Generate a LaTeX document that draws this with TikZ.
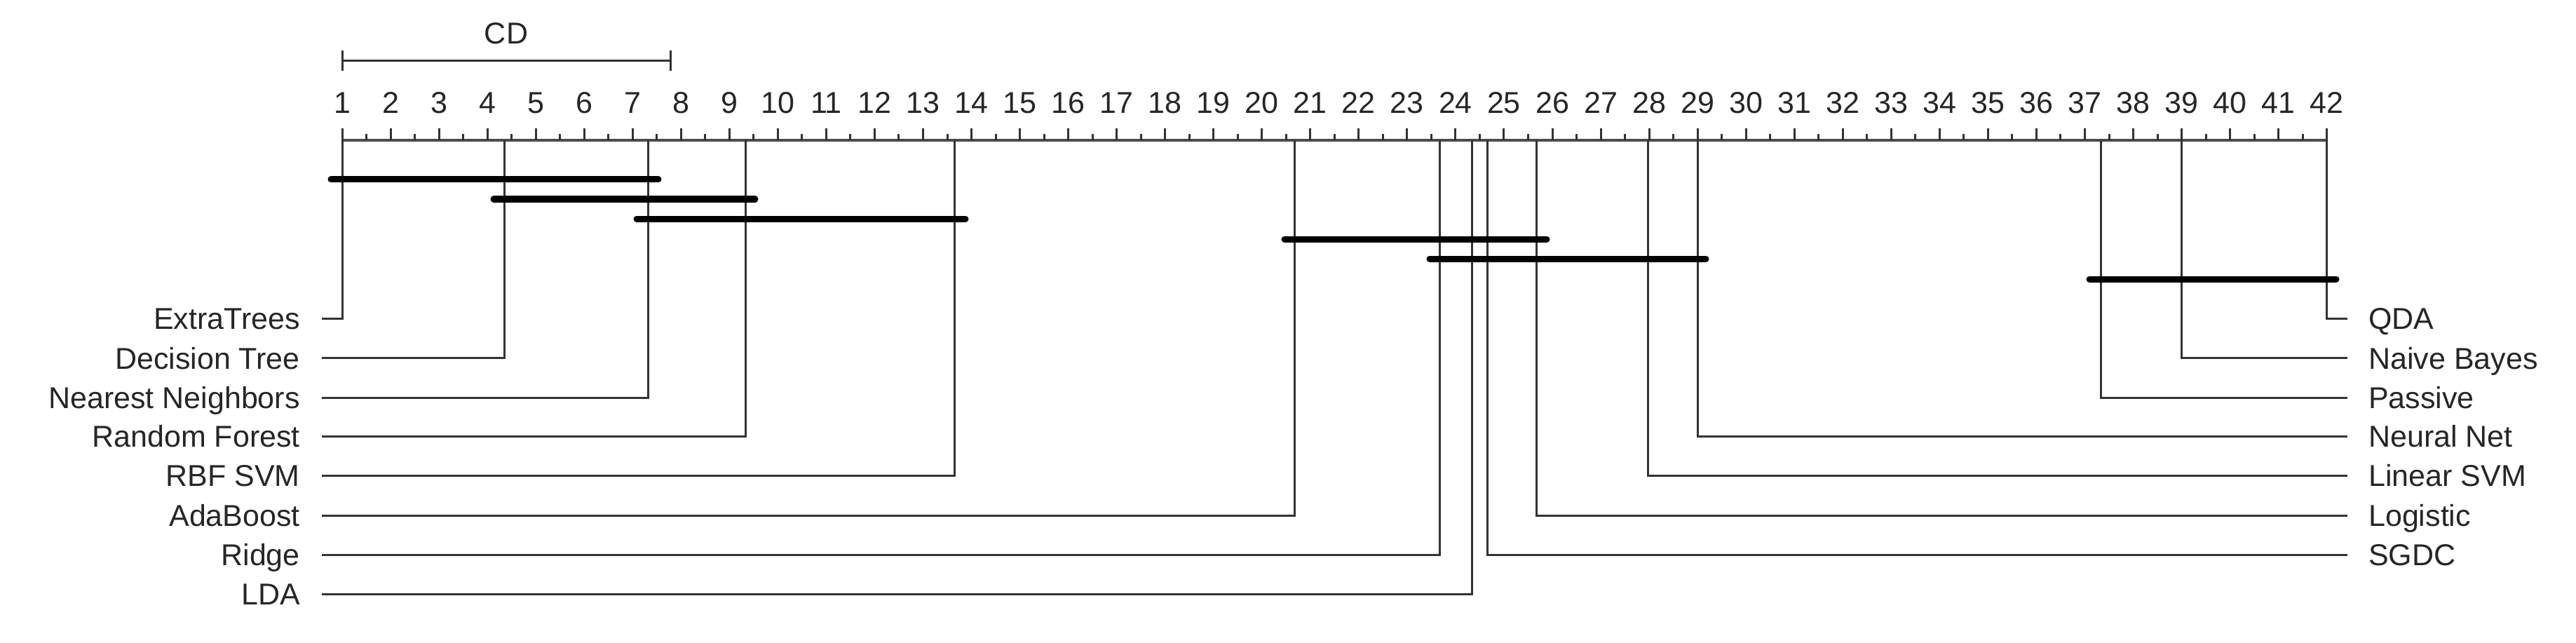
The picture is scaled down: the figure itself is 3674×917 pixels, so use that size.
\documentclass[tikz,border=0pt]{standalone}
\usepackage{fontspec}
\setmainfont{Liberation Sans}
\begin{document}
\begin{tikzpicture}[x=1pt,y=-1pt,
  thinln/.style={line width=3pt,color=black!80},
  cdbar/.style={line width=9pt,line cap=round,color=black},
  lbl/.style={inner sep=0pt,font=\fontsize{43}{43}\selectfont,color=black!85}]
\useasboundingbox (0,0) rectangle (3674,917);
\def\ux#1{488+69.04*(#1-1)}
% axis
\coordinate (a0) at (488,200);
\coordinate (a1) at (3318.6,200);
\draw[line width=4pt,color=black!70] (a0) -- (a1);
\foreach \i in {1,...,42}{
  \draw[thinln] ({\ux{\i}},200) -- ({\ux{\i}},183);
  \node[lbl,anchor=base] (t\i) at ({\ux{\i}},162) {\i};
}
\foreach \i in {1,...,41}{
  \draw[thinln] ({\ux{\i}+34.52},200) -- ({\ux{\i}+34.52},191);
}
% CD
\coordinate (c0) at (488,87);
\coordinate (c1) at (956,87);
\draw[thinln] (c0) -- (c1);
\draw[thinln] (488,72) -- (488,101);
\draw[thinln] (956,72) -- (956,101);
\node[lbl,anchor=base] (cd) at (722,63) {CD};
% left methods
\foreach \r/\y/\t/\n in {1/454/ExtraTrees/l1, 4.35/510.5/Decision Tree/l2, 7.32/567/Nearest Neighbors/l3, 9.33/622/Random Forest/l4, 13.65/678/RBF SVM/l5, 20.67/735/AdaBoost/l6, 23.67/791/Ridge/l7, 24.34/847/LDA/l8}{
  \node[lbl,anchor=base east] (\n) at (428,\y+15.5) {\t};
  \coordinate (\n e) at (459,\y);
  \draw[thinln] ({\ux{\r}},200) |- (\n e);
}
% right methods
\foreach \r/\y/\t/\n in {42/454/QDA/r1, 39/510.5/Naive Bayes/r2, 37.33/567/Passive/r3, 29.0/622/Neural Net/r4, 27.97/678/Linear SVM/r5, 25.67/735/Logistic/r6, 24.66/791/SGDC/r7}{
  \node[lbl,anchor=base west] (\n) at (3378,\y+15.5) {\t};
  \coordinate (\n w) at (3348,\y);
  \draw[thinln] ({\ux{\r}},200) |- (\n w);
}
% cliques
\draw[cdbar] (472,256) -- (939,256);
\draw[cdbar] (704,284) -- (1077,284);
\draw[cdbar] (908,312) -- (1377,312);
\draw[cdbar] (1832,341) -- (2206,341);
\draw[cdbar] (2039,369) -- (2433,369);
\draw[cdbar] (2980,398) -- (3332,398);
\end{tikzpicture}
\end{document}
